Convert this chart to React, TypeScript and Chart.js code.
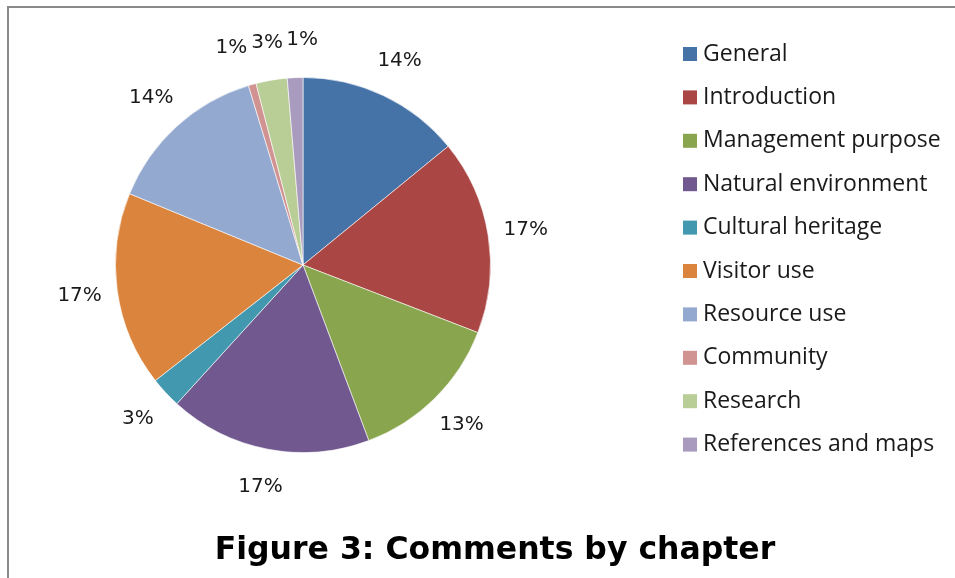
import React, { useEffect, useRef } from "react";
import { Chart, registerables } from "chart.js";

Chart.register(...registerables);

const categories = [
  "General",
  "Introduction",
  "Management purpose",
  "Natural environment",
  "Cultural heritage",
  "Visitor use",
  "Resource use",
  "Community",
  "Research",
  "References and maps",
];
const commentCounts = [21, 25, 20, 26, 4, 25, 21, 1, 4, 2];
const sliceColors = [
  "#4572A7",
  "#AA4643",
  "#89A54E",
  "#71588F",
  "#4198AF",
  "#DB843D",
  "#93A9CF",
  "#D19392",
  "#B9CD96",
  "#A99BBD",
];
const chartTitle = "Figure 3: Comments by chapter";

const LEGEND_FONT = "'Open Sans', Lato, sans-serif";
const LABEL_FONT = "'DejaVu Sans', sans-serif";
const TITLE_FONT = "'DejaVu Sans', sans-serif";

const framePlugin = {
  id: "frame",
  beforeDraw(chart: any) {
    const ctx = chart.ctx;
    ctx.save();
    ctx.fillStyle = "#ffffff";
    ctx.fillRect(0, 0, chart.width, chart.height);
    ctx.strokeStyle = "#8a8a8a";
    ctx.lineWidth = 2;
    ctx.beginPath();
    ctx.moveTo(8, chart.height + 2);
    ctx.lineTo(8, 7);
    ctx.lineTo(chart.width + 2, 7);
    ctx.stroke();
    ctx.restore();
  },
};

const percentLabelPlugin = {
  id: "percentLabels",
  afterDatasetsDraw(chart: any) {
    const ctx = chart.ctx;
    const meta = chart.getDatasetMeta(0);
    const data: number[] = chart.data.datasets[0].data;
    const total = data.reduce((a, b) => a + b, 0);
    ctx.save();
    ctx.font = `20px ${LABEL_FONT}`;
    ctx.fillStyle = "#1a1a1a";
    ctx.textAlign = "center";
    ctx.textBaseline = "middle";
    const items = meta.data.map((arc: any, i: number) => {
      const p = arc.getProps(["x", "y", "startAngle", "endAngle", "outerRadius"], true);
      const mid = (p.startAngle + p.endAngle) / 2;
      const dist = p.outerRadius + 38;
      const text = Math.round((data[i] / total) * 100) + "%";
      return {
        text,
        x: p.x + Math.cos(mid) * dist,
        y: p.y + Math.sin(mid) * dist,
        w: ctx.measureText(text).width + 3,
        h: 18,
      };
    });
    for (let iter = 0; iter < 50; iter++) {
      let moved = false;
      for (let a = 0; a < items.length; a++) {
        for (let b = a + 1; b < items.length; b++) {
          const A = items[a];
          const B = items[b];
          const ox = (A.w + B.w) / 2 - Math.abs(A.x - B.x);
          const oy = (A.h + B.h) / 2 - Math.abs(A.y - B.y);
          if (ox > 0 && oy > 0) {
            const dir = A.x <= B.x ? -1 : 1;
            A.x += (dir * ox) / 2 + dir * 0.5;
            B.x -= (dir * ox) / 2 + dir * 0.5;
            moved = true;
          }
        }
      }
      if (!moved) break;
    }
    items.forEach((it: any) => ctx.fillText(it.text, it.x, it.y));
    ctx.restore();
  },
};

const legendPlugin = {
  id: "sideLegend",
  afterDraw(chart: any) {
    const ctx = chart.ctx;
    const labels: string[] = chart.data.labels;
    const colors: string[] = chart.data.datasets[0].backgroundColor;
    ctx.save();
    ctx.font = `23px ${LEGEND_FONT}`;
    ctx.textAlign = "left";
    ctx.textBaseline = "middle";
    const startY = 54;
    const step = 43.4;
    labels.forEach((lab, i) => {
      const y = startY + i * step;
      ctx.fillStyle = colors[i];
      ctx.fillRect(683, y - 7, 14, 14);
      ctx.fillStyle = "#1a1a1a";
      ctx.fillText(lab, 703, y);
    });
    ctx.restore();
  },
};

const titlePlugin = {
  id: "bottomTitle",
  afterDraw(chart: any) {
    const ctx = chart.ctx;
    ctx.save();
    ctx.font = `bold 31.5px ${TITLE_FONT}`;
    ctx.fillStyle = "#000000";
    ctx.textAlign = "center";
    ctx.textBaseline = "middle";
    ctx.fillText(chartTitle, 495, 551);
    ctx.restore();
  },
};

export default function App() {
  const canvasRef = useRef<HTMLCanvasElement | null>(null);

  useEffect(() => {
    if (!canvasRef.current) return;
    const chart = new Chart(canvasRef.current, {
      type: "pie",
      data: {
        labels: categories,
        datasets: [
          {
            data: commentCounts,
            backgroundColor: sliceColors,
            borderColor: "rgba(255,255,255,0.6)",
            borderWidth: 1,
          },
        ],
      },
      options: {
        responsive: false,
        animation: false,
        layout: {
          padding: { top: 77, bottom: 125, left: 115, right: 464 },
        },
        plugins: {
          legend: { display: false },
          tooltip: { enabled: false },
          title: { display: false },
        },
      },
      plugins: [framePlugin, percentLabelPlugin, legendPlugin, titlePlugin],
    });
    return () => chart.destroy();
  }, []);

  return (
    <div style={{ position: "fixed", left: 0, top: 0, width: 955, height: 578 }}>
      <canvas ref={canvasRef} width={955} height={578} style={{ display: "block" }} />
    </div>
  );
}
